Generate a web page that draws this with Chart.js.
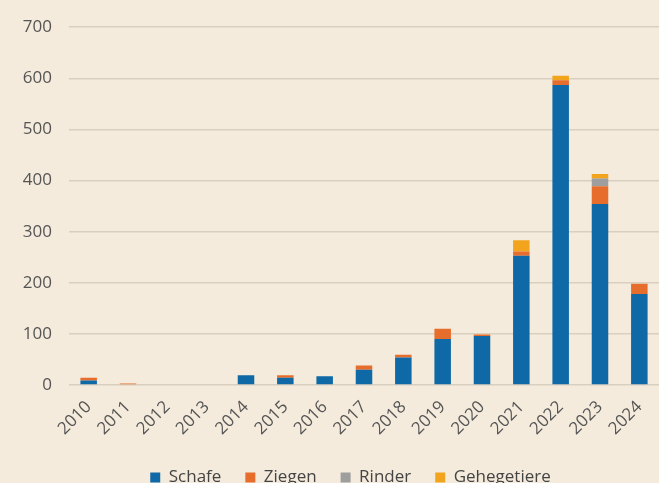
<!DOCTYPE html>
<html>
<head>
<meta charset="utf-8">
<script src="https://cdn.jsdelivr.net/npm/chart.js@4/dist/chart.umd.min.js"></script>
<style>
  html, body { margin: 0; padding: 0; background: #f4ebdc; overflow: hidden; }
  #wrap { width: 659px; height: 496px; position: relative; }
</style>
</head>
<body>
<div id="wrap"><canvas id="chart"></canvas></div>
<script>
// Jahre
const years = ['2010', '2011', '2012', '2013', '2014', '2015', '2016', '2017',
               '2018', '2019', '2020', '2021', '2022', '2023', '2024'];

// Werte je Tierart
const schafe      = [9, 0, 0, 0, 19, 14, 17, 30, 54, 90, 96, 253, 587, 354, 178];
const ziegen      = [5, 3, 0, 0, 0, 5, 0, 8, 5, 20, 3, 8, 9, 35, 20];
const rinder      = [0, 0, 0, 0, 0, 0, 0, 0, 0, 0, 0, 0, 0, 15, 0];
const gehegetiere = [0, 0, 0, 0, 0, 0, 0, 0, 0, 0, 0, 22, 9, 9, 0];

const yTicks = [0, 100, 200, 300, 400, 500, 600, 700];

// Legende etwas nach rechts schieben wie im Original
const legendShift = {
    id: 'legendShift',
    afterLayout(chart) {
        chart.legend.left += 21;
        chart.legend.right += 21;
    }
};

const ctx = document.getElementById('chart').getContext('2d');
new Chart(ctx, {
    type: 'bar',
    data: {
        labels: years,
        datasets: [
            { label: 'Schafe', data: schafe, backgroundColor: '#0e69a6' },
            { label: 'Ziegen', data: ziegen, backgroundColor: '#e66d2b' },
            { label: 'Rinder', data: rinder, backgroundColor: '#9e9e9e' },
            { label: 'Gehegetiere', data: gehegetiere, backgroundColor: '#f2a51c' }
        ]
    },
    options: {
        responsive: true,
        maintainAspectRatio: false,
        animation: false,
        layout: { padding: { left: 0, right: 0, top: 25, bottom: 0 } },
        datasets: { bar: { barPercentage: 0.42, categoryPercentage: 1 } },
        plugins: {
            legend: {
                position: 'bottom',
                labels: {
                    boxWidth: 10,
                    boxHeight: 10,
                    padding: 24,
                    color: '#444',
                    font: { family: 'Open Sans', size: 17 }
                }
            },
            tooltip: { enabled: false }
        },
        scales: {
            x: {
                stacked: true,
                grid: { display: false },
                border: { display: false },
                afterFit: s => { s.height = 60; },
                ticks: {
                    color: '#555',
                    maxRotation: 45,
                    minRotation: 45,
                    padding: 4,
                    font: { family: 'Open Sans', size: 17 }
                }
            },
            y: {
                stacked: true,
                min: 0,
                max: 700,
                afterFit: s => { s.width = 69; },
                afterBuildTicks: axis => { axis.ticks = yTicks.map(v => ({ value: v })); },
                grid: { color: '#d9cfbf', lineWidth: 1.5, drawTicks: false },
                border: { display: false },
                ticks: {
                    color: '#555',
                    padding: 17,
                    font: { family: 'Open Sans', size: 17 }
                }
            }
        }
    },
    plugins: [legendShift]
});
</script>
</body>
</html>
